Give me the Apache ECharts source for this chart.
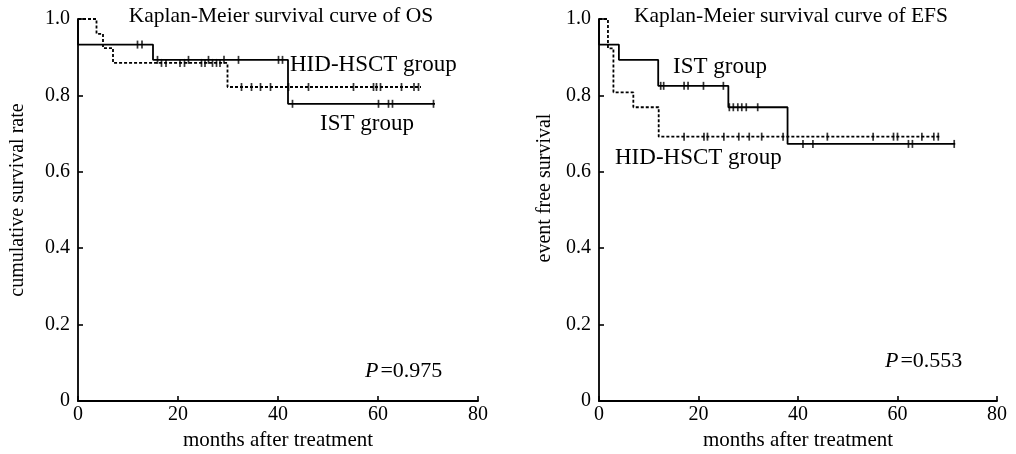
<!DOCTYPE html>
<html>
<head>
<meta charset="utf-8">
<script src="https://cdn.jsdelivr.net/npm/echarts@6/dist/echarts.min.js"></script>
<style>
html,body{margin:0;padding:0;background:#fff;}
#c{width:1016px;height:454px;}
</style>
</head>
<body>
<div id="c"></div>
<script>
// ---- axis ticks ----
const xTicks = [0, 20, 40, 60, 80];
const yTicks = [0, 0.2, 0.4, 0.6, 0.8, 1.0];

// ---- OS (left) ----
const osIstTime   = [0, 0, 15, 42, 71.4];
const osIstSurv   = [1, 0.933, 0.893, 0.778, 0.778];
const osIstCensor = [11.9, 12.8, 15.9, 22.1, 26.1, 29.2, 32.1, 40.1, 40.9, 42.9, 60.1, 62.1, 62.9, 71.1];
const osHidTime   = [0, 3.7, 5.0, 7.0, 29.9, 68.6];
const osHidSurv   = [1, 0.961, 0.924, 0.885, 0.822, 0.822];
const osHidCensor = [16.7, 17.6, 20.4, 21.3, 24.7, 25.4, 26.9, 27.7, 28.4, 32.7, 34.7, 36.5, 38.5, 42.1, 46.1, 55.1, 59.1, 59.7, 60.5, 64.7, 67.2, 68.1];

// ---- EFS (right) ----
const efsIstTime   = [0, 0, 4.0, 11.9, 26.0, 37.9, 71.6];
const efsIstSurv   = [1, 0.933, 0.893, 0.825, 0.769, 0.673, 0.673];
const efsIstCensor = [12.4, 13.0, 17.1, 17.9, 21.0, 25.0, 26.2, 27.0, 27.9, 28.7, 29.6, 31.9, 41.0, 43.0, 62.2, 63.0, 71.4];
const efsHidTime   = [0, 1.8, 2.9, 6.9, 12.0, 68.4];
const efsHidSurv   = [1, 0.923, 0.808, 0.769, 0.692, 0.692];
const efsHidCensor = [17.1, 21.1, 21.8, 25.1, 28.1, 30.2, 32.7, 37.0, 45.9, 55.1, 59.2, 60.0, 64.9, 67.3, 68.2];

const titles = ['Kaplan-Meier survival curve of OS', 'Kaplan-Meier survival curve of EFS'];
const yNames = ['cumulative survival rate', 'event free survival'];
const xName = 'months after treatment';
const pValues = ['0.975', '0.553'];

const FONT = '"Liberation Serif", "DejaVu Serif", serif';

function stepData(t, s) { return t.map((v, i) => [v, s[i]]); }
function survAt(t, s, x) {
  let v = s[0];
  for (let i = 0; i < t.length; i++) { if (t[i] <= x) v = s[i]; }
  return v;
}
function censorData(t, s, c) { return c.map(x => [x, survAt(t, s, x)]); }

function lineSeries(idx, t, s, dashed) {
  return {
    type: 'line', xAxisIndex: idx, yAxisIndex: idx, step: 'end',
    data: stepData(t, s), symbol: 'none', silent: true,
    lineStyle: { color: '#000', width: 1.8, type: dashed ? [3, 2] : 'solid' }
  };
}
function censorSeries(idx, t, s, c) {
  return {
    type: 'scatter', xAxisIndex: idx, yAxisIndex: idx,
    data: censorData(t, s, c), symbol: 'rect', symbolSize: [1.7, 8], silent: true,
    itemStyle: { color: '#000' }
  };
}

function xAxis(idx) {
  return {
    type: 'value', gridIndex: idx, min: 0, max: 80, interval: 20,
    name: xName, nameLocation: 'middle', nameGap: 25,
    nameTextStyle: { color: '#000', fontFamily: FONT, fontSize: 21 },
    axisLine: { show: true, onZero: false, lineStyle: { color: '#000', width: 1.8 } },
    axisTick: { show: true, inside: true, length: 5, lineStyle: { color: '#000', width: 1.6 } },
    axisLabel: { color: '#000', fontFamily: FONT, fontSize: 20, margin: 4,
      formatter: v => xTicks.includes(v) ? String(v) : '' },
    splitLine: { show: false }
  };
}
function yAxis(idx) {
  return {
    type: 'value', gridIndex: idx, min: 0, max: 1, interval: 0.2,
    axisLine: { show: true, onZero: false, lineStyle: { color: '#000', width: 1.8 } },
    axisTick: { show: true, inside: true, length: 5, lineStyle: { color: '#000', width: 1.6 } },
    axisLabel: { color: '#000', fontFamily: FONT, fontSize: 20, margin: 8,
      formatter: v => { const k = yTicks.find(y => Math.abs(y - v) < 1e-6); return k === undefined ? '' : (k === 0 ? '0' : k.toFixed(1)); } },
    splitLine: { show: false }
  };
}

function txt(x, y, text, size, align, extra) {
  return Object.assign({
    type: 'text', x: x, y: y, silent: true,
    style: { text: text, fill: '#000', font: size + 'px ' + FONT, align: align || 'left', verticalAlign: 'middle' }
  }, extra || {});
}
function ptxt(x, y, p) {
  return {
    type: 'text', x: x, y: y, silent: true,
    style: {
      text: '{i|P}{n|=' + p + '}', align: 'left', verticalAlign: 'middle',
      rich: {
        i: { fontFamily: FONT, fontSize: 22, fontStyle: 'italic', fill: '#000', padding: [0, 2, 0, 0] },
        n: { fontFamily: FONT, fontSize: 22, fill: '#000' }
      }
    }
  };
}

const chart = echarts.init(document.getElementById('c'), null, { renderer: 'canvas' });
chart.setOption({
  animation: false,
  backgroundColor: '#fff',
  grid: [
    { left: 78, top: 19, width: 400, height: 382, containLabel: false, outerBoundsMode: 'none' },
    { left: 599, top: 19, width: 398, height: 382, containLabel: false, outerBoundsMode: 'none' }
  ],
  xAxis: [xAxis(0), xAxis(1)],
  yAxis: [yAxis(0), yAxis(1)],
  series: [
    lineSeries(0, osHidTime, osHidSurv, true),
    lineSeries(0, osIstTime, osIstSurv, false),
    censorSeries(0, osHidTime, osHidSurv, osHidCensor),
    censorSeries(0, osIstTime, osIstSurv, osIstCensor),
    lineSeries(1, efsHidTime, efsHidSurv, true),
    lineSeries(1, efsIstTime, efsIstSurv, false),
    censorSeries(1, efsHidTime, efsHidSurv, efsHidCensor),
    censorSeries(1, efsIstTime, efsIstSurv, efsIstCensor)
  ],
  graphic: [
    txt(281, 16, titles[0], 21.5, 'center'),
    txt(791, 16, titles[1], 21.5, 'center'),
    txt(290, 65, 'HID-HSCT group', 23, 'left'),
    txt(320, 124, 'IST group', 23, 'left'),
    txt(673, 67, 'IST group', 23, 'left'),
    txt(615, 158, 'HID-HSCT group', 23, 'left'),
    ptxt(365, 371, pValues[0]),
    ptxt(885, 361, pValues[1]),
    txt(18, 200, yNames[0], 20, 'center', { rotation: Math.PI / 2 }),
    txt(545, 188, yNames[1], 20, 'center', { rotation: Math.PI / 2 })
  ]
});
</script>
</body>
</html>
